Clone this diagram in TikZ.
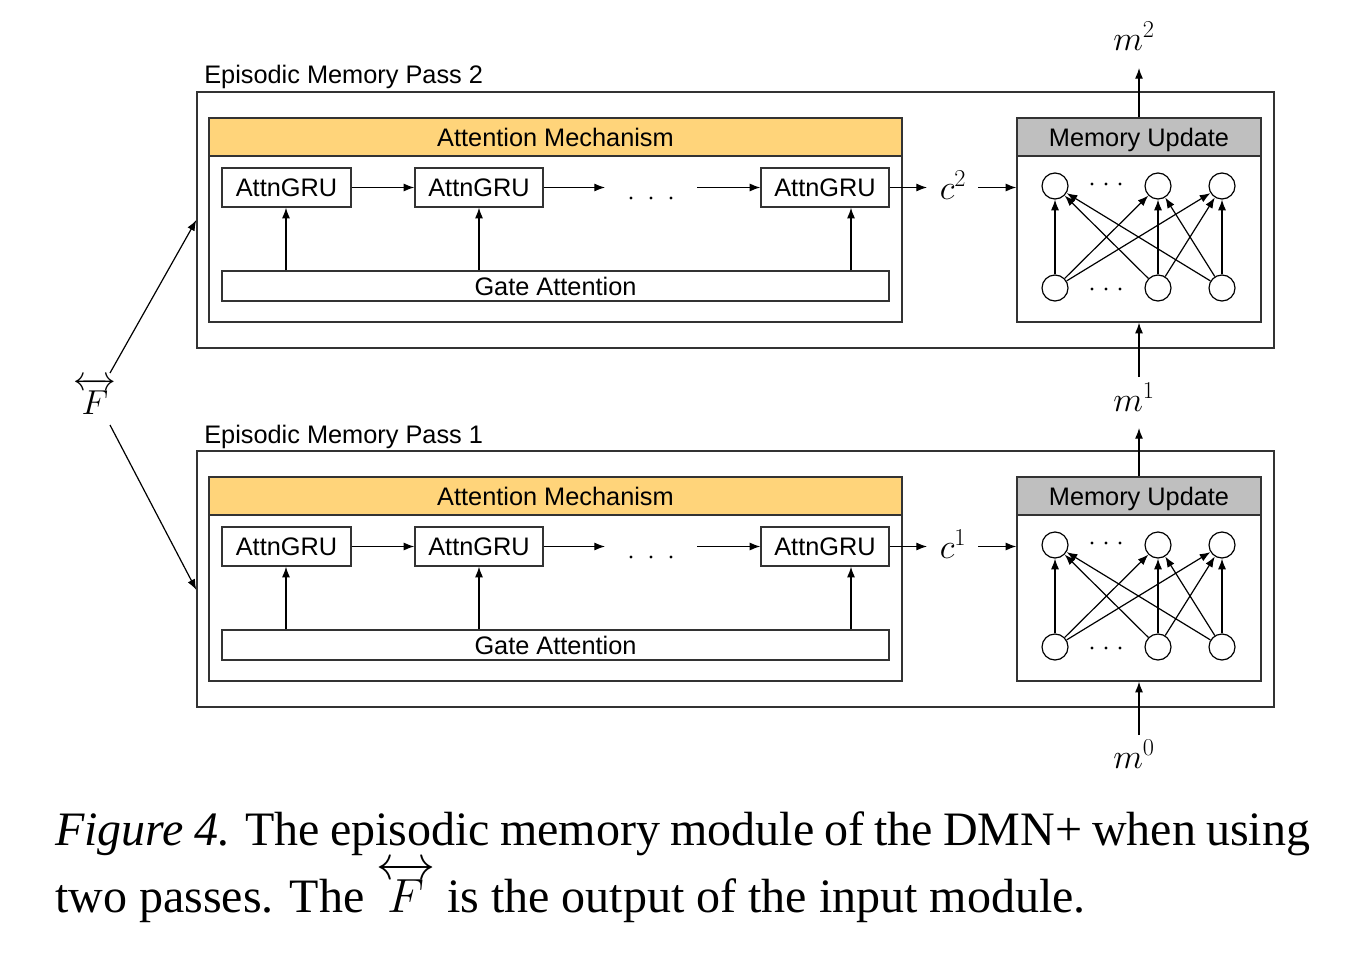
\RequirePackage{fix-cm}
\documentclass[tikz,border=0pt]{standalone}
\usepackage{amsmath}
\usepackage{fontspec}
\setmainfont{Liberation Serif}
\newfontfamily\diagfont{Liberation Sans}
\usetikzlibrary{arrows.meta,calc}
\definecolor{attnyellow}{HTML}{FFD47A}
\definecolor{memgray}{HTML}{BFBFBF}
\definecolor{boxline}{HTML}{333333}
\newcommand\pxbox[7]{\node[draw=boxline, line width=1pt, inner sep=0pt,
  minimum width={((#4)-(#2))*0.75pt}, minimum height={((#5)-(#3))*0.75pt}, #6]
  (#1) at ({((#2)+(#4))/2},{((#3)+(#5))/2}) {#7};}
\tikzset{
  ttl/.style={font=\diagfont\fontsize{19}{22}\selectfont},
  lbl/.style={font=\diagfont\fontsize{19}{22}\selectfont, text height=13.7pt, text depth=0pt},
  mth/.style={font=\fontsize{26}{30}\selectfont, inner sep=1pt},
  arr/.style={-{Latex[length=8pt,width=6pt]}, line width=0.9pt},
  neuron/.style={circle, draw=black, line width=0.9pt, fill=white, minimum size=19.5pt, inner sep=0pt},
}
\begin{document}
\begin{tikzpicture}[x=0.75pt,y=-0.75pt]
\useasboundingbox (0,0) rectangle (1358,966);
\foreach \p/\dy in {2/0,1/359}{
  \pxbox{outer\p}{197}{92+\dy}{1274}{348+\dy}{}{}
  \node[ttl, anchor=base west, inner sep=0pt] (title\p) at (204,84+\dy) {Episodic Memory Pass \p};
  % attention mechanism
  \pxbox{attn\p}{209}{118+\dy}{902}{322+\dy}{}{}
  \pxbox{attnh\p}{209}{118+\dy}{902}{156+\dy}{fill=attnyellow,lbl}{Attention Mechanism}
  \pxbox{gruA\p}{222}{168+\dy}{351}{207+\dy}{lbl}{AttnGRU}
  \pxbox{gruB\p}{415}{168+\dy}{543}{207+\dy}{lbl}{AttnGRU}
  \pxbox{gruC\p}{761}{168+\dy}{889}{207+\dy}{lbl}{AttnGRU}
  \pxbox{gate\p}{222}{271+\dy}{889}{301+\dy}{lbl}{Gate Attention}
  \coordinate (dl\p) at (605,187.5+\dy);
  \coordinate (dr\p) at (697,187.5+\dy);
  \foreach \xx in {631,651,671}{\fill (\xx,198+\dy) circle (1.7);}
  \draw[arr] (gruA\p) -- (gruB\p);
  \draw[arr] (gruB\p) -- (dl\p);
  \draw[arr] (dr\p) -- (gruC\p);
  \draw[arr] (gate\p.north -| 286,0) -- (gruA\p.south -| 286,0);
  \draw[arr] (gate\p.north -| 479,0) -- (gruB\p.south -| 479,0);
  \draw[arr] (gate\p.north -| 851,0) -- (gruC\p.south -| 851,0);
  % c label
  \node[mth] (c\p) at (953,185+\dy) {$c^{\p}$};
  % memory update
  \pxbox{mem\p}{1017}{118+\dy}{1261}{322+\dy}{}{}
  \pxbox{memh\p}{1017}{118+\dy}{1261}{156+\dy}{fill=memgray,lbl}{Memory Update}
  \draw[arr] (gruC\p.east) -- (927,187.5+\dy);
  \draw[arr] (978,187.5+\dy) -- (mem\p.west |- 0,187.5+\dy);
  \node[neuron] (tA\p) at (1055,186+\dy) {};
  \node[neuron] (tB\p) at (1158,186+\dy) {};
  \node[neuron] (tC\p) at (1222,186+\dy) {};
  \node[neuron] (bA\p) at (1055,288+\dy) {};
  \node[neuron] (bB\p) at (1158,288+\dy) {};
  \node[neuron] (bC\p) at (1222,288+\dy) {};
  \foreach \xx in {1092,1106,1120}{\fill (\xx,184+\dy) circle (1.7); \fill (\xx,289+\dy) circle (1.7);}
  \foreach \b in {A,B,C}{\foreach \t in {A,B,C}{\draw[arr] (b\b\p) -- (t\t\p);}}
}
% memory labels
\node[mth] (m2) at (1134,36) {$m^2$};
\node[mth] (m1) at (1134,397) {$m^1$};
\node[mth] (m0) at (1134,754) {$m^0$};
\draw[arr] (memh2.north) -- (memh2.north |- 0,68);
\draw[arr] (mem2.south |- 0,377) -- (mem2.south);
\draw[arr] (memh1.north) -- (memh1.north |- 0,428);
\draw[arr] (mem1.south |- 0,735) -- (mem1.south);
% F input
\node[mth] (F) at (95,396) {$\overleftrightarrow{F}$};
\coordinate (Ftop) at (110,373);
\coordinate (Fbot) at (110,425);
\draw[arr] (Ftop) -- (outer2.west);
\draw[arr] (Fbot) -- ($(outer1.west)+(0,11)$);
% caption
\node[anchor=base west, inner sep=0pt, font=\fontsize{36}{42}\selectfont] (cap1) at (55,845)
  {\makebox[941.25pt][s]{\textit{Figure 4.} The episodic memory module of the DMN+ when using}};
\node[anchor=base west, inner sep=0pt, font=\fontsize{36}{42}\selectfont] (cap2) at (55,912)
  {two passes. The $\overleftrightarrow{F}$ is the output of the input module.};
\end{tikzpicture}
\end{document}
